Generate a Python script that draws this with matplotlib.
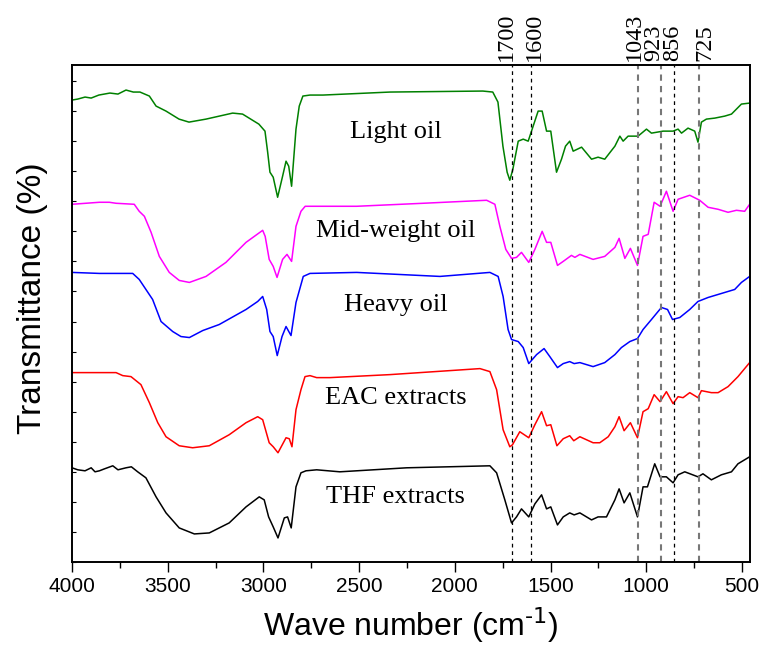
"""FTIR transmittance spectra of the oil fractions and solvent extracts."""

import matplotlib

matplotlib.use("Agg")
import matplotlib.pyplot as plt
from matplotlib import font_manager
from matplotlib.ticker import MultipleLocator, NullFormatter

plt.rcParams["axes.unicode_minus"] = False

# Spectra (wave number in cm^-1, transmittance in a.u.,
# already stacked with the offsets used in the figure).
light_wn = [4000, 3970, 3932, 3900, 3860, 3802, 3760, 3718, 3680, 3645,
            3596, 3561, 3509, 3441, 3389, 3300, 3161, 3109, 3024, 2992,
            2978, 2966, 2949, 2926, 2900, 2882, 2868, 2853, 2830, 2813,
            2794, 2757, 2689, 2339, 1854, 1802, 1775, 1749, 1727, 1713,
            1697, 1669, 1643, 1617, 1591, 1565, 1544, 1521, 1499, 1469,
            1443, 1422, 1400, 1382, 1338, 1286, 1252, 1217, 1164, 1138,
            1121, 1095, 1043, 999, 973, 912, 860, 834, 816, 782,
            747, 730, 712, 686, 642, 590, 555, 503, 460]
light_t = [461, 462, 464, 463, 466, 468, 467, 471, 469, 469,
           465, 455, 450, 442, 439, 442, 448, 447, 437, 430,
           409, 389, 384, 364, 385, 400, 395, 375, 432, 455,
           465, 466, 466, 469, 470, 469, 459, 415, 389, 381,
           392, 420, 422, 420, 435, 450, 450, 430, 430, 389,
           402, 415, 420, 410, 414, 402, 404, 402, 415, 425,
           420, 425, 425, 432, 428, 430, 430, 432, 428, 433,
           430, 419, 439, 442, 443, 445, 447, 457, 458]

mid_wn = [4000, 3857, 3805, 3770, 3675, 3649, 3622, 3587, 3544, 3492,
          3440, 3387, 3300, 3196, 3091, 3004, 2991, 2970, 2949, 2929,
          2900, 2877, 2853, 2830, 2804, 2782, 2757, 2513, 2166, 1834,
          1791, 1765, 1734, 1704, 1678, 1652, 1614, 1582, 1544, 1521,
          1499, 1464, 1434, 1391, 1373, 1347, 1278, 1217, 1164, 1142,
          1112, 1083, 1046, 1017, 990, 959, 928, 895, 860, 834,
          773, 721, 677, 625, 573, 529, 486, 460]
mid_t = [357, 359, 359, 358, 357, 350, 345, 329, 305, 289,
         281, 279, 285, 299, 319, 331, 325, 302, 295, 284,
         302, 307, 300, 335, 350, 355, 355, 355, 358, 361,
         357, 335, 312, 303, 304, 309, 299, 312, 330, 319,
         319, 296, 300, 306, 304, 307, 302, 305, 314, 323,
         303, 313, 296, 325, 327, 359, 355, 370, 350, 362,
         366, 361, 354, 352, 349, 351, 350, 357]

heavy_wn = [4000, 3857, 3683, 3649, 3579, 3535, 3474, 3431, 3387, 3317,
            3231, 3091, 3030, 3004, 2983, 2966, 2949, 2928, 2903, 2882,
            2856, 2830, 2792, 2757, 2513, 2078, 1817, 1774, 1748, 1722,
            1704, 1669, 1643, 1614, 1573, 1534, 1504, 1464, 1434, 1400,
            1377, 1347, 1278, 1217, 1164, 1130, 1086, 1046, 1017, 973,
            921, 889, 863, 825, 773, 730, 677, 590, 538, 503,
            460]
heavy_t = [289, 288, 288, 282, 262, 240, 230, 225, 224, 231,
           237, 252, 260, 265, 252, 230, 225, 206, 225, 235,
           226, 259, 285, 288, 289, 285, 289, 285, 265, 232,
           222, 220, 214, 198, 207, 213, 205, 194, 198, 200,
           198, 199, 195, 199, 207, 214, 220, 223, 232, 242,
           254, 252, 242, 244, 252, 260, 264, 269, 272, 279,
           285]

eac_wn = [4000, 3770, 3735, 3692, 3640, 3596, 3552, 3509, 3440, 3370,
          3283, 3179, 3091, 3030, 3004, 2970, 2949, 2924, 2882, 2865,
          2851, 2830, 2804, 2783, 2757, 2722, 2653, 2339, 1869, 1817,
          1782, 1748, 1713, 1699, 1661, 1614, 1582, 1547, 1521, 1499,
          1467, 1434, 1400, 1379, 1347, 1278, 1243, 1199, 1164, 1142,
          1116, 1083, 1046, 1017, 990, 959, 928, 895, 860, 834,
          808, 773, 730, 712, 660, 625, 573, 521, 460]
eac_t = [189, 189, 186, 185, 177, 159, 139, 125, 116, 114,
         116, 127, 139, 145, 142, 119, 115, 109, 124, 123,
         115, 152, 172, 185, 186, 184, 184, 187, 193, 190,
         172, 132, 115, 117, 130, 124, 137, 150, 136, 137,
         116, 123, 126, 121, 125, 119, 119, 125, 135, 145,
         131, 139, 124, 150, 153, 167, 160, 170, 158, 165,
         164, 169, 164, 171, 169, 169, 175, 185, 199]

thf_wn = [4000, 3970, 3932, 3900, 3880, 3857, 3830, 3787, 3760, 3718,
          3690, 3657, 3614, 3561, 3509, 3440, 3361, 3283, 3179, 3091,
          3022, 2996, 2973, 2949, 2924, 2891, 2874, 2855, 2830, 2804,
          2778, 2722, 2601, 2252, 1817, 1782, 1739, 1704, 1678, 1652,
          1614, 1582, 1547, 1521, 1499, 1464, 1434, 1400, 1377, 1347,
          1286, 1252, 1208, 1164, 1142, 1116, 1086, 1046, 1017, 994,
          956, 928, 895, 860, 834, 799, 730, 704, 660, 608,
          555, 521, 460]
thf_t = [94, 92, 91, 94, 90, 91, 93, 96, 92, 94,
         95, 90, 84, 65, 49, 34, 28, 29, 39, 55,
         65, 62, 45, 35, 24, 44, 45, 34, 75, 89,
         91, 92, 90, 94, 96, 89, 62, 39, 45, 53,
         45, 58, 67, 53, 55, 37, 45, 49, 47, 49,
         42, 45, 45, 62, 73, 59, 69, 45, 75, 75,
         98, 85, 85, 79, 87, 90, 85, 88, 82, 87,
         90, 98, 105]

series = [
    ("Light oil", light_wn, light_t, "#008000", 429),
    ("Mid-weight oil", mid_wn, mid_t, "#ff00ff", 330),
    ("Heavy oil", heavy_wn, heavy_t, "#0000ff", 256),
    ("EAC extracts", eac_wn, eac_t, "#ff0000", 164),
    ("THF extracts", thf_wn, thf_t, "#000000", 65),
]

# Marked band positions, where each number is written, and line colour.
peaks = [1700, 1600, 1043, 923, 856, 725]
peak_text_x = [1730, 1587, 1062, 962, 862, 695]
peak_colors = ["black", "black", "#777777", "#777777", "black", "#777777"]

_names = {f.name for f in font_manager.fontManager.ttflist}
SANS = "Liberation Sans Narrow" if "Liberation Sans Narrow" in _names else "Liberation Sans"
SERIF = "Liberation Serif"

fig = plt.figure(figsize=(7.59, 6.5), dpi=100)
ax = fig.add_axes([0.0949, 0.1354, 0.8933, 0.7646])

for name, wn, t, color, label_y in series:
    ax.plot(wn, t, color=color, lw=1.1)
    ax.text(2308, label_y, name, ha="center", va="center",
            fontsize=19, family=SERIF)

for wn, tx, c in zip(peaks, peak_text_x, peak_colors):
    if c == "black":
        ax.axvline(wn, color=c, lw=0.9, ls=(0, (3, 3)))
    else:
        ax.axvline(wn, color=c, lw=1.5, ls=(0, (3, 2.5)))
    ax.text(tx, 1.008, str(wn), rotation=90, ha="center", va="bottom",
            fontsize=17.5, family=SERIF, transform=ax.get_xaxis_transform())

ax.set_xlim(4000, 458)
ax.set_ylim(0, 496)

ax.xaxis.set_major_locator(MultipleLocator(500))
ax.xaxis.set_minor_locator(MultipleLocator(250))
ax.tick_params(axis="x", which="major", direction="out", length=7, width=1,
               top=False, labelsize=15)
ax.tick_params(axis="x", which="minor", direction="out", length=4, width=1, top=False)
for lab in ax.get_xticklabels():
    lab.set_family(SANS)

ax.yaxis.set_major_locator(MultipleLocator(30))
ax.yaxis.set_major_formatter(NullFormatter())
ax.tick_params(axis="y", which="major", direction="in", length=3, width=0.8, right=False)

for sp in ax.spines.values():
    sp.set_linewidth(1.4)

ax.set_xlabel(r"Wave number (cm$^{\text{-1}}$)", fontsize=23, family=SANS, labelpad=7)
ax.set_ylabel("Transmittance (%)", fontsize=24, family="Liberation Sans")
ax.yaxis.set_label_coords(-0.035, 0.53)

fig.savefig("out.png", dpi=100)
